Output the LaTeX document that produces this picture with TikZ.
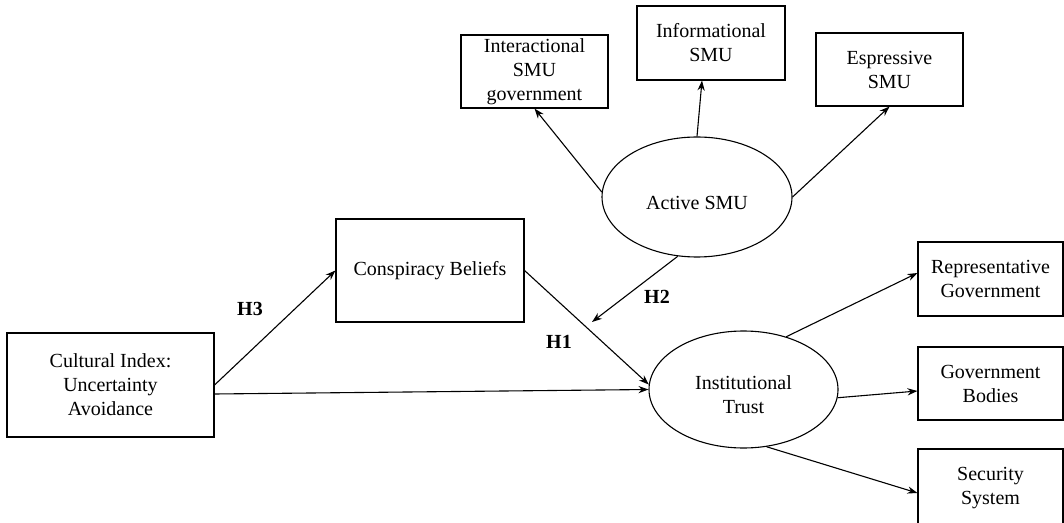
\documentclass[tikz,border=0pt]{standalone}
\usepackage{fontspec}
\setmainfont{Liberation Serif}
\usetikzlibrary{shapes.geometric,arrows.meta}
\begin{document}
\begin{tikzpicture}[x=0.5pt,y=-0.5pt,
  font=\fontsize{10}{12}\selectfont,
  box/.style={draw, line width=0.55pt, rectangle, align=center, inner sep=0pt},
  oval/.style={draw, line width=0.55pt, ellipse, inner sep=0pt},
  txt/.style={align=center, inner sep=0pt},
  conn/.style={line width=0.55pt, -{Stealth[length=5pt,width=3.6pt]}},
  hyp/.style={font=\fontsize{10}{12}\selectfont\bfseries}]
\useasboundingbox (0,0) rectangle (1064,523);
% top indicators
\node[box, minimum width=73.5pt, minimum height=36.5pt] (int) at (534.5,71.5) {Interactional\\SMU\\government};
\node[box, minimum width=74pt, minimum height=37pt] (inf) at (711,43) {Informational\\SMU};
\node[box, minimum width=73.5pt, minimum height=36.5pt] (esp) at (889.5,69.5) {Espressive\\SMU};
% latent constructs
\node[oval, minimum width=95pt, minimum height=60pt] (act) at (697,197) {};
\node[txt] (acttxt) at ([yshift=-3pt]act.center) {Active SMU};
\node[box, minimum width=94pt, minimum height=51.5pt] (con) at (430,270.5) {Conspiracy Beliefs};
\node[box, minimum width=103.5pt, minimum height=52pt] (cult) at (110.5,385) {Cultural Index:\\Uncertainty\\Avoidance};
\node[oval, minimum width=94.5pt, minimum height=58.5pt] (ins) at (743.5,389.5) {};
\node[txt] (instxt) at ([yshift=-2.5pt]ins.center) {Institutional\\Trust};
% right indicators
\node[box, minimum width=72.5pt, minimum height=37pt] (rep) at (990.5,279) {Representative\\Government};
\node[box, minimum width=72.5pt, minimum height=36.5pt] (gov) at (990.5,383.5) {Government\\Bodies};
\node[box, minimum width=72.5pt, minimum height=39pt] (sec) at (990.5,488) {Security\\System};
% connectors
\draw[conn] (act.177.6) -- (int.south);
\draw[conn] (act.north) -- ([xshift=-4.5pt]inf.south);
\draw[conn] (act.east) -- (esp.south);
\coordinate (h2e) at (592,322);
\draw[conn] (act.252) -- (h2e);
\draw[conn] (cult.east) -- (con.west);
\draw[conn] ([yshift=-4.5pt]cult.east) -- (ins.west);
\draw[conn] (con.east) -- (ins.177);
\draw[conn] (ins.51) -- ([yshift=3pt]rep.west);
\draw[conn] (ins.-5) -- ([yshift=-3.75pt]gov.west);
\draw[conn] (ins.-68) -- ([yshift=-2.5pt]sec.west);
% labels
\node[hyp] (h3) at (250,309) {H3};
\node[hyp] (h2) at (657,297) {H2};
\node[hyp] (h1) at (559,342) {H1};
\end{tikzpicture}
\end{document}
